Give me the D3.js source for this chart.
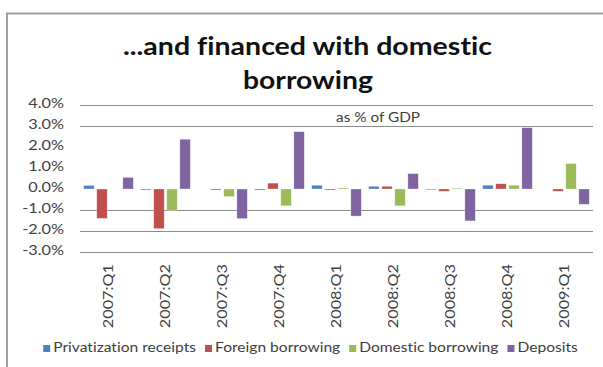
<!DOCTYPE html>
<html>
<head>
<meta charset="utf-8">
<script src="https://cdn.jsdelivr.net/npm/d3@7"></script>
<style>
  html, body { margin: 0; padding: 0; background: #fff; }
  svg { display: block; }
  text { font-family: Lato, "Open Sans", sans-serif; font-variant-ligatures: none; font-feature-settings: "liga" 0, "dlig" 0; }
</style>
</head>
<body>
<svg id="chart" width="603" height="367"></svg>
<script>
// Quarterly financing flows, % of GDP
const quarters = ["2007:Q1", "2007:Q2", "2007:Q3", "2007:Q4", "2008:Q1", "2008:Q2", "2008:Q3", "2008:Q4", "2009:Q1"];
const privatization = [0.17, -0.05, 0, -0.05, 0.18, 0.13, -0.04, 0.18, 0];
const foreignBorrowing = [-1.4, -1.89, -0.05, 0.28, -0.05, 0.13, -0.11, 0.25, -0.11];
const domesticBorrowing = [0, -1.02, -0.36, -0.8, 0.05, -0.8, 0.04, 0.18, 1.21];
const deposits = [0.55, 2.37, -1.41, 2.73, -1.29, 0.73, -1.52, 2.92, -0.73];

const seriesNames = ["Privatization receipts", "Foreign borrowing", "Domestic borrowing", "Deposits"];
const seriesColors = ["#4F81BD", "#C0504D", "#9BBB59", "#8064A2"];
const yTicks = [4, 3, 2, 1, 0, -1, -2, -3];
const gridTicks = [4, 3, -1, -2, -3];

const seriesValues = [privatization, foreignBorrowing, domesticBorrowing, deposits];
const rows = quarters.map((q, i) => ({ q, values: seriesValues.map(s => s[i]) }));

const svg = d3.select("#chart");
const stretch = 1.18; // body text is drawn slightly wide

// chart frame
svg.append("path")
  .attr("d", "M7,367V13.5H603")
  .attr("fill", "none")
  .attr("stroke", "#a0a0a0")
  .attr("stroke-width", 2);

// scales
const x0 = d3.scaleBand().domain(quarters).range([80, 593]).paddingInner(0.13).paddingOuter(0.065);
const x1 = d3.scaleBand().domain(d3.range(4)).range([0, x0.bandwidth()]).paddingInner(0.2);
const y = d3.scaleLinear().domain([-3, 4]).range([252, 105]);

// gridlines
svg.append("g").selectAll("line").data(gridTicks).join("line")
  .attr("x1", 80).attr("x2", 593)
  .attr("y1", d => Math.round(y(d)) + 0.5).attr("y2", d => Math.round(y(d)) + 0.5)
  .attr("stroke", "#8c8c8c").attr("stroke-width", 1);

// y-axis labels
const yAxis = d3.axisLeft(y).tickValues(yTicks).tickSize(0).tickPadding(0)
  .tickFormat(d => d.toFixed(1) + "%");
const gy = svg.append("g").attr("transform", "translate(64,0)").call(yAxis);
gy.select(".domain").remove();
gy.selectAll("text")
  .attr("x", null).attr("dy", null)
  .attr("dominant-baseline", "middle")
  .attr("transform", d => `translate(0,${y(d)}) scale(1.25,1)`)
  .attr("y", 0)
  .style("font-size", "13px").style("font-family", "Lato, sans-serif").attr("fill", "#404040");
gy.selectAll(".tick").attr("transform", null);

// bars
const groups = svg.append("g").selectAll("g").data(rows).join("g")
  .attr("transform", d => `translate(${x0(d.q)},0)`);
groups.selectAll("rect").data(d => d.values.map((v, k) => ({ v, k }))).join("rect")
  .attr("x", d => x1(d.k))
  .attr("width", x1.bandwidth())
  .attr("y", d => Math.min(y(d.v), y(0)))
  .attr("height", d => Math.abs(y(d.v) - y(0)))
  .attr("fill", d => seriesColors[d.k])
  .attr("stroke", "#ffffff").attr("stroke-opacity", 0.5).attr("stroke-width", 0.6);

// x-axis labels (rotated)
const xAxis = d3.axisBottom(x0).tickSize(0).tickPadding(0);
const gx = svg.append("g").call(xAxis);
gx.select(".domain").remove();
gx.selectAll(".tick text")
  .attr("x", 0).attr("y", 0).attr("dy", null)
  .attr("text-anchor", "end")
  .attr("dominant-baseline", "middle")
  .attr("transform", `translate(1,264) rotate(-90) scale(1.25,1.05)`)
  .style("font-size", "13px").style("font-family", "Lato, sans-serif").attr("fill", "#404040");

// title
const title = svg.append("g").attr("fill", "#111").style("font-weight", "bold").style("font-size", "25.5px");
title.append("text").attr("x", 307.5).attr("y", 55).attr("text-anchor", "middle")
  .attr("textLength", 369).attr("lengthAdjust", "spacingAndGlyphs")
  .text("...and financed with domestic");
title.append("text").attr("x", 308).attr("y", 89).attr("text-anchor", "middle")
  .attr("textLength", 130).attr("lengthAdjust", "spacingAndGlyphs")
  .text("borrowing");

// subtitle
svg.append("text").attr("transform", `translate(378,122) scale(${stretch},1)`)
  .attr("text-anchor", "middle")
  .style("font-size", "13px").attr("fill", "#404040")
  .text("as % of GDP");

// legend: items laid out in sequence and centred under the chart
const legendStretch = 1.2, swatch = 7, swatchGap = 3, itemGap = 9;
const legend = svg.append("g");
const items = legend.selectAll("g").data(seriesNames).join("g");
items.append("rect").attr("x", 0).attr("y", -4).attr("width", swatch).attr("height", swatch)
  .attr("fill", (d, i) => seriesColors[i]);
items.append("text").attr("transform", `translate(${swatch + swatchGap},0) scale(${legendStretch},1)`)
  .attr("dominant-baseline", "middle")
  .style("font-size", "13px").attr("fill", "#404040")
  .text(d => d);
let cursor = 0;
const offsets = [];
items.select("text").each(function () {
  offsets.push(cursor);
  cursor += swatch + swatchGap + this.getComputedTextLength() * legendStretch + itemGap;
});
const total = cursor - itemGap;
const startX = 310.5 - total / 2;
items.attr("transform", (d, i) => `translate(${startX + offsets[i]},349)`);
</script>
</body>
</html>
